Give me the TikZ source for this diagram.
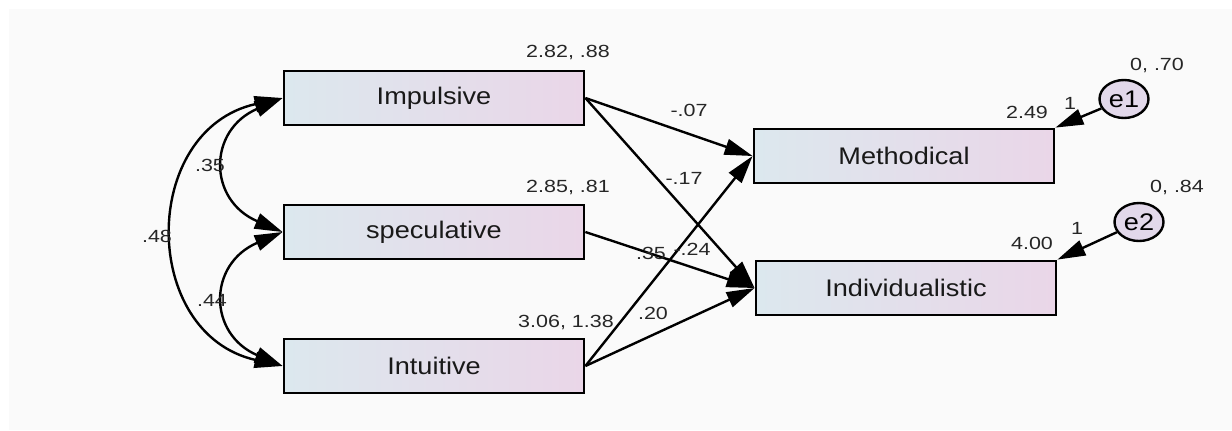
\documentclass[tikz,border=0pt]{standalone}
\usepackage{fontspec}
\setmainfont{Liberation Sans}[FakeStretch=1.13]
\newfontfamily\estfont{Liberation Sans}[FakeStretch=1.22]
\usetikzlibrary{arrows.meta,shapes.geometric}
\definecolor{boxleft}{RGB}{220,232,238}
\definecolor{boxright}{RGB}{234,214,232}
\definecolor{errfill}{RGB}{226,216,234}
\definecolor{paper}{RGB}{250,250,250}
\tikzset{
  obs/.style={draw, line width=1.4pt, left color=boxleft, right color=boxright,
    minimum width=150pt, minimum height=27pt, inner sep=0pt,
    font=\fontsize{12}{14}\selectfont, text=black!90},
  err/.style={draw, ellipse, line width=1.2pt, fill=errfill, minimum width=24.5pt,
    minimum height=19pt, inner sep=0pt, font=\fontsize{12}{14}\selectfont},
  est/.style={inner sep=0.5pt, font=\estfont\fontsize{8.8}{10}\selectfont, text=black!85},
  reg/.style={line width=1.2pt, -{Triangle[length=14pt,width=8pt]}},
  cov/.style={line width=1.2pt, {Triangle[length=14pt,width=8pt]}-{Triangle[length=14pt,width=8pt]}},
}
\begin{document}
\begin{tikzpicture}[x=0.5pt, y=-0.5pt]
    \useasboundingbox (0,0) rectangle (1232,430);
    \fill[paper] (9,9) rectangle (1232,430);
    % observed variables
    \node[obs] (imp) at (434,98) {Impulsive};
    \node[obs] (spec) at (434,232) {speculative};
    \node[obs] (intu) at (434,366) {Intuitive};
    \node[obs] (meth) at (904,156) {Methodical};
    \node[obs] (indiv) at (906,288) {Individualistic};
    % errors
    \node[err] (e1) at (1124,99) {e1};
    \node[err] (e2) at (1139,222) {e2};
    % means, variances
    \node[est] (mimp) at (568,52) {2.82, .88};
    \node[est] (mspec) at (568,187) {2.85, .81};
    \node[est] (mintu) at (566,322) {3.06, 1.38};
    \node[est] (imeth) at (1027,112) {2.49};
    \node[est] (iindiv) at (1032,243) {4.00};
    \node[est] (ve1) at (1157,65) {0, .70};
    \node[est] (ve2) at (1177,187) {0, .84};
    % covariances
    \draw[cov] (imp.west) .. controls +(-75,32) and +(-75,-32) .. (spec.west);
    \draw[cov] (spec.west) .. controls +(-75,32) and +(-75,-32) .. (intu.west);
    \draw[cov] (imp.west) .. controls +(-143,32) and +(-143,-32) .. (intu.west);
    \node[est] (c1) at (210,165) {.35};
    \node[est] (c2) at (157,236) {.48};
    \node[est] (c3) at (212,300) {.44};
    % paths
    \draw[reg] (imp.east) -- (meth.west);
    \draw[reg] (imp.east) -- (indiv.west);
    \draw[reg] (spec.east) -- (indiv.west);
    \draw[reg] (intu.east) -- (meth.west);
    \draw[reg] (intu.east) -- (indiv.west);
    \node[est] (w1) at (689,110) {-.07};
    \node[est] (w2) at (684,178) {-.17};
    \node[est] (w3) at (651,253) {.35};
    \node[est] (w4) at (692,249) {-.24};
    \node[est] (w5) at (653,313) {.20};
    \draw[reg] (e1) -- (meth.north east);
    \draw[reg] (e2) -- (indiv.north east);
    \node[est] (f1) at (1070,103) {1};
    \node[est] (f2) at (1077,228) {1};
\end{tikzpicture}
\end{document}
